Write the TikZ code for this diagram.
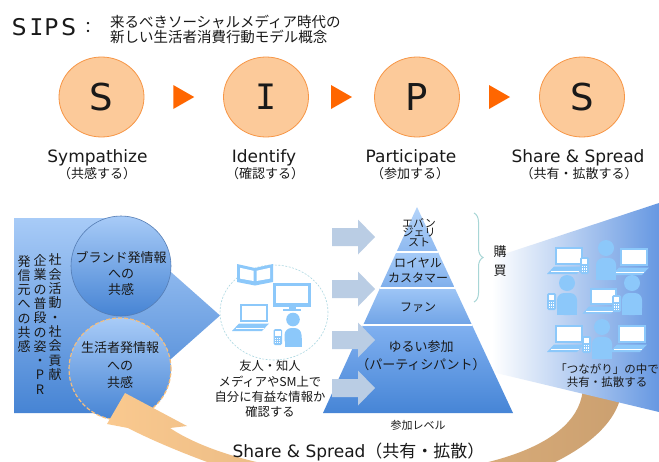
\documentclass[tikz,border=0pt]{standalone}
\usepackage{fontspec}
\setmainfont{Noto Sans CJK JP}
\newfontfamily\latf{DejaVu Sans}
\newfontfamily\monof{DejaVu Sans Mono}
\usetikzlibrary{calc,shapes.geometric,decorations.pathreplacing}
\newcommand\fsz[2]{\fontsize{#1}{#2}\selectfont}

\definecolor{ringfill}{RGB}{252,202,154}
\definecolor{ringline}{RGB}{247,150,70}
\definecolor{stepmarkc}{RGB}{255,102,0}
\definecolor{bluelight}{RGB}{168,203,247}
\definecolor{bluedeep}{RGB}{70,132,212}
\definecolor{circrim}{RGB}{85,125,180}
\definecolor{dashrim}{RGB}{245,190,125}
\definecolor{arrowgrey}{RGB}{186,205,228}
\definecolor{iconblue}{RGB}{140,200,250}
\definecolor{ringdash}{RGB}{170,215,225}
\definecolor{bracecol}{RGB}{168,214,214}
\definecolor{loopwarm}{RGB}{250,201,143}
\definecolor{looptan}{RGB}{203,160,112}
\definecolor{wedgeblue}{RGB}{102,152,226}
\definecolor{inkc}{RGB}{25,25,25}
\definecolor{layAt}{RGB}{180,212,250}
\definecolor{layAb}{RGB}{142,185,240}
\definecolor{layBt}{RGB}{166,203,248}
\definecolor{layBb}{RGB}{126,174,235}
\definecolor{layCt}{RGB}{158,198,246}
\definecolor{layCb}{RGB}{112,163,230}
\definecolor{layDt}{RGB}{128,176,240}
\definecolor{layDb}{RGB}{70,133,214}

\tikzset{
  blockarrow/.pic={\fill[arrowgrey] (0,-9) -- (26,-9) -- (26,-17.5) -- (43,0) -- (26,17.5) -- (26,9) -- (0,9) -- cycle;},
  stepmark/.pic={\fill[stepmarkc] (-10.5,-12) -- (10.5,0) -- (-10.5,12) -- cycle;},
  laptop/.pic={
    \fill[iconblue] (0,0) rectangle (28,18);
    \fill[white] (2.2,2.2) rectangle (25.8,15.8);
    \fill[iconblue] (-1,19.5) -- (29,19.5) -- (22,27) -- (-8,27) -- cycle;
    \draw[white, line width=0.5pt] (-4,24.5) -- (24,24.5);
  },
  person/.pic={
    \fill[iconblue] (0,0) circle (8);
    \fill[iconblue, rounded corners=7pt] (-10,10) rectangle (10,32);
    \fill[iconblue] (-10,22) rectangle (10,32);
  },
  phone/.pic={
    \fill[iconblue, rounded corners=1.5pt] (0,0) rectangle (9,17);
    \fill[white] (1.6,1.8) rectangle (7.4,7);
    \foreach \i in {0,1,2} \foreach \j in {0,1,2}
      \fill[white] ({1.7+2.1*\i},{9+2.3*\j}) rectangle ++(1.3,1.3);
  },
}

\begin{document}
\begin{tikzpicture}[x=1pt,y=-1pt,
  every node/.style={inner sep=0pt, outer sep=0pt, text=inkc},
  stage/.style={ellipse, draw=ringline, line width=0.8pt, fill=ringfill,
    minimum width=85pt, minimum height=80pt, font=\latf\fsz{37}{37}},
  steplabel/.style={anchor=base, font=\latf\fsz{17}{17}},
  stepnote/.style={anchor=base, font=\fsz{13}{13}},
  vcol/.style={align=center, font=\fsz{13}{14.3}},
]
\useasboundingbox (0,0) rectangle (659,461);
\fill[white] (0,0) rectangle (659,461);

% ---- title ----
\node[anchor=base west, font=\latf\fsz{23}{23}] (sips) at (12,35) {S\kern3pt{\monof I}\kern1pt P\kern3pt S};
\node[anchor=base, font=\fsz{16}{16}] (colon) at (88,33) {：};
\node[anchor=base west, font=\fsz{14.5}{14.5}] (sub1) at (110,27) {来るべきソーシャルメディア時代の};
\node[anchor=base west, font=\fsz{14.5}{14.5}] (sub2) at (110,42.5) {新しい生活者消費行動モデル概念};

% ---- the four stages ----
\node[stage] (cS) at (101.5,97) {S};
\node[stage, font=\monof\fsz{35}{35}] (cI) at (266,97) {I};
\node[stage] (cP) at (417,97) {P};
\node[stage] (cS2) at (582,97) {S};
\pic at ($(cS.east)!0.5!(cI.west)$) {stepmark};
\pic at ($(cI.east)!0.5!(cP.west)$) {stepmark};
\pic at ($(cP.east)!0.5!(cS2.west)$) {stepmark};

\node[steplabel] (lS) at (97.5,162) {Sympathize};
\node[stepnote] (nS) at (97,178) {（共感する）};
\node[steplabel] (lI) at (264,162) {Identify};
\node[stepnote] (nI) at (265,178) {（確認する）};
\node[steplabel] (lP) at (411,162) {Participate};
\node[stepnote] (nP) at (410,178) {（参加する）};
\node[steplabel] (lS2) at (578,162) {Share \& Spread};
\node[stepnote] (nS2) at (579,178) {（共有・拡散する）};

% ---- sympathize block ----
\shade[top color=bluelight, bottom color=bluedeep]
  (14,218) -- (110,218) -- (220,315.5) -- (110,413) -- (14,413) -- cycle;
\node[circle, minimum size=100pt, top color=bluelight, bottom color=bluedeep,
  draw=circrim, line width=0.6pt] (brand) at (121,266) {};
\node[circle, minimum size=102pt, top color=bluelight, bottom color=bluedeep,
  draw=dashrim, line width=1.2pt, dash pattern=on 4pt off 2pt] (voice) at (120,369) {};
\node[align=center, font=\fsz{13}{16}] (brandtext) at (121,273) {ブランド発情報\\への\\共感};
\node[align=center, font=\fsz{13}{17.5}] (voicetext) at (120,365.5) {生活者発情報\\への\\共感};
\node[vcol] (colA) at (55,317.2) {社\\会\\活\\動\\・\\社\\会\\貢\\献};
\node[vcol] (colB) at (40,324.4) {企\\業\\の\\普\\段\\の\\姿\\・\\P\\R};
\node[vcol] (colC) at (24,303.9) {発\\信\\元\\へ\\の\\共\\感};

% ---- identify circle with media icons ----
\node[ellipse, draw=ringdash, line width=0.6pt, dash pattern=on 2pt off 1.5pt,
  minimum width=108pt, minimum height=95pt] (idring) at (274,312.5) {};
\fill[iconblue] (237,264) -- (255,268) -- (273,264) -- (273,282) -- (255,285.5) -- (237,282) -- cycle;
\fill[white] (240,267.8) -- (253.5,270.8) -- (253.5,281) -- (240,278.6) -- cycle;
\fill[white] (256.5,270.8) -- (270,267.8) -- (270,278.6) -- (256.5,281) -- cycle;
\fill[iconblue] (273,283) rectangle (311,306.5);
\fill[white] (275.8,285.8) rectangle (308.2,302.5);
\fill[iconblue] (288.5,306) rectangle (295.5,309);
\fill[iconblue] (283,308.5) rectangle (301,310.5);
\pic at (240,304) {laptop};
\pic[scale=0.85] at (293,319.5) {person};
\pic[scale=0.95] at (273.5,329) {phone};
\node[align=center, font=\fsz{12.3}{15.3}] (idtext) at (270,389) {友人・知人\\メディアやSM上で\\自分に有益な情報か\\確認する};

% ---- share wedge ----
\shade[left color=loopwarm, middle color=loopwarm!55!looptan, right color=looptan]
  (125,393) -- (187,426) -- (170,428)
  .. controls (210,455) and (290,475) .. (370,475)
  .. controls (470,475) and (583,450) .. (583,385)
  -- (622,385)
  .. controls (622,450) and (500,500) .. (370,500)
  .. controls (300,500) and (180,455) .. (128,428)
  -- (107,424) -- cycle;
\shade[left color=white, right color=wedgeblue]
  (492,258) -- (659,203) -- (659,412) -- (492,372) -- cycle;
\pic at (606,248) {person};
\pic at (567,283) {person};
\pic at (632,283) {person};
\pic at (602,327) {person};
\pic at (555,247) {laptop};
\pic at (620,248) {laptop};
\pic[scale=0.95] at (590,288) {laptop};
\pic at (555,325) {laptop};
\pic at (618,325) {laptop};
\pic at (580,257) {phone};
\pic at (547,293) {phone};
\pic at (612,295) {phone};
\pic at (582,336) {phone};
\node[align=center, font=\fsz{11.5}{13}] (sharetext) at (607,376) {「つながり」の中で\\共有・拡散する};

% ---- participation pyramid ----
\coordinate (apex) at (417,207);
\coordinate (bl) at (323,413);
\coordinate (br) at (513,413);
\coordinate (l1) at ($(apex)!0.2184!(bl)$);
\coordinate (r1) at ($(apex)!0.2184!(br)$);
\coordinate (l2) at ($(apex)!0.3932!(bl)$);
\coordinate (r2) at ($(apex)!0.3932!(br)$);
\coordinate (l3) at ($(apex)!0.5728!(bl)$);
\coordinate (r3) at ($(apex)!0.5728!(br)$);
\shade[top color=layAt, bottom color=layAb] (apex) -- (l1) -- (r1) -- cycle;
\shade[top color=layBt, bottom color=layBb] (l1) -- (l2) -- (r2) -- (r1) -- cycle;
\shade[top color=layCt, bottom color=layCb] (l2) -- (l3) -- (r3) -- (r2) -- cycle;
\shade[top color=layDt, bottom color=layDb] (l3) -- (bl) -- (br) -- (r3) -- cycle;
\draw[white, line width=1.5pt] (l1) -- (r1) (l2) -- (r2) (l3) -- (r3);
\node[align=center, font={\fsz{11}{9.5}\lineskiplimit=-20pt}] (evan) at (419,232.5) {エバン\\ジェリ\\スト};
\node[align=center, font=\fsz{12}{15}] (loyal) at (418,270.5) {ロイヤル\\カスタマー};
\node[font=\fsz{12}{12}] (fan) at (418,307.5) {ファン};
\node[align=center, font=\fsz{13}{18}] (casual) at (421,356) {ゆるい参加\\（パーティシパント）};
\node[font=\fsz{11}{11}] (level) at (418,425) {参加レベル};

\pic at (332,237) {blockarrow};
\pic at (332,289) {blockarrow};
\pic at (332,340) {blockarrow};
\pic at (332,388) {blockarrow};

\draw[bracecol, line width=1pt, decorate, decoration={brace, amplitude=9pt}]
  (474,213) -- (474,302);
\node[align=center, font=\fsz{13}{19}] (buy) at (500,261.5) {購\\買};

% ---- loop caption ----
\node[anchor=base, font=\fsz{17}{17}] (loopcap) at (358.5,457.5) {{\latf Share \& Spread}（共有・拡散）};
\end{tikzpicture}
\end{document}
